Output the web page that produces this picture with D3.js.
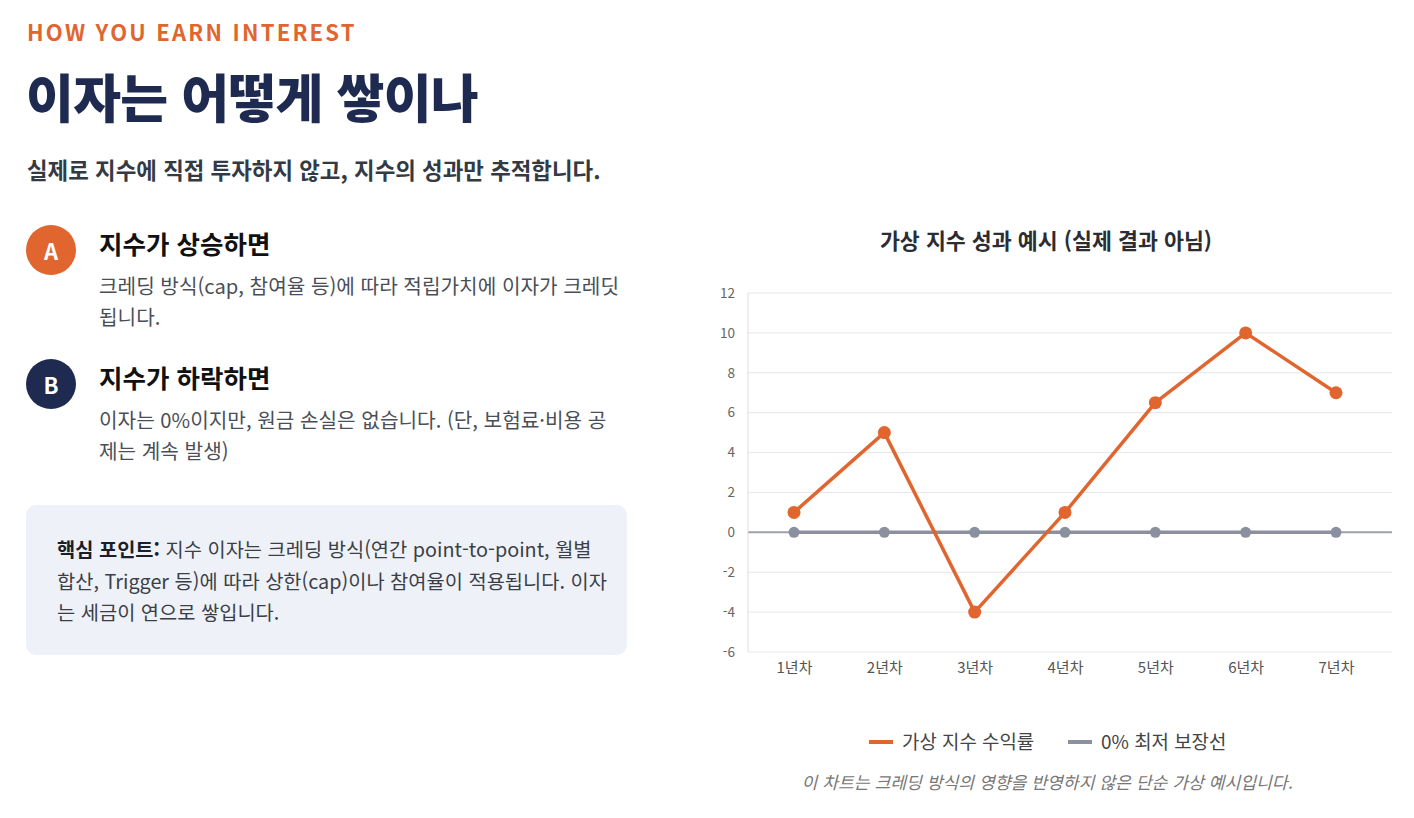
<!DOCTYPE html>
<html lang="ko">
<head>
<meta charset="utf-8">
<script src="https://cdn.jsdelivr.net/npm/d3@7"></script>
<style>
  html, body { margin: 0; padding: 0; background: #fff; }
  body {
    width: 1414px; height: 818px; position: relative; overflow: hidden;
    font-family: "Noto Sans CJK KR", "Noto Sans", sans-serif;
  }
  .abs { position: absolute; white-space: nowrap; }
  .eyebrow { left: 27px; top: 16px; font-size: 22px; font-weight: 700; color: #e0652e; letter-spacing: 2.2px; line-height: 30px; }
  .title { left: 26px; top: 60px; font-size: 52px; font-weight: 800; color: #1e2a50; line-height: 72px; letter-spacing: -0.7px; }
  .sub { left: 27px; top: 154px; font-size: 22.4px; font-weight: 700; color: #333a44; line-height: 30px; }
  .badge { width: 50px; height: 50px; border-radius: 50%; color: #fff; font-weight: 700; font-size: 22px;
           display: flex; align-items: center; justify-content: center; }
  .item-h { font-size: 25.5px; font-weight: 700; color: #111; line-height: 30px; }
  .item-p { font-size: 20.2px; color: #4a4f57; line-height: 31px; }
  .box { left: 26px; top: 505px; width: 601px; height: 150px; background: #eef1f7; border-radius: 10px; }
  .box-p { left: 57px; top: 533px; font-size: 19.8px; color: #3a3f47; line-height: 31.5px; }
  .box-p b { color: #1a1f2a; }
  svg { position: absolute; left: 0; top: 0; }
</style>
</head>
<body>
<div id="left"></div>
<svg id="chart" width="1414" height="818"></svg>
<script>
// ---- data ----
const years = ["1년차", "2년차", "3년차", "4년차", "5년차", "6년차", "7년차"];
const indexReturn = [1, 5, -4, 1, 6.5, 10, 7];
const floorLine = [0, 0, 0, 0, 0, 0, 0];
const yTicks = [-6, -4, -2, 0, 2, 4, 6, 8, 10, 12];
const seriesNames = ["가상 지수 수익률", "0% 최저 보장선"];

const orange = "#e0652e";
const navy = "#1e2a50";
const grey = "#8a909d";
const font = "Noto Sans CJK KR, Noto Sans, sans-serif";

// ---- left column ----
const left = d3.select("#left");
left.append("div").attr("class", "abs eyebrow").text("HOW YOU EARN INTEREST");
left.append("div").attr("class", "abs title").text("이자는 어떻게 쌓이나");
left.append("div").attr("class", "abs sub").text("실제로 지수에 직접 투자하지 않고, 지수의 성과만 추적합니다.");

const items = [
  {letter: "A", color: orange, top: 225, head: "지수가 상승하면",
   lines: ["크레딩 방식(cap, 참여율 등)에 따라 적립가치에 이자가 크레딧", "됩니다."]},
  {letter: "B", color: navy, top: 359, head: "지수가 하락하면",
   lines: ["이자는 0%이지만, 원금 손실은 없습니다. (단, 보험료·비용 공", "제는 계속 발생)"]}
];
items.forEach(it => {
  left.append("div").attr("class", "abs badge")
    .style("left", "26px").style("top", it.top + "px")
    .style("background", it.color).text(it.letter);
  left.append("div").attr("class", "abs item-h")
    .style("left", "99px").style("top", (it.top + 3) + "px").text(it.head);
  left.append("div").attr("class", "abs item-p")
    .style("left", "99px").style("top", (it.top + 45) + "px")
    .html(it.lines.join("<br>"));
});

left.append("div").attr("class", "abs box");
left.append("div").attr("class", "abs box-p")
  .html("<b>핵심 포인트:</b> 지수 이자는 크레딩 방식(연간 point-to-point, 월별<br>합산, Trigger 등)에 따라 상한(cap)이나 참여율이 적용됩니다. 이자<br>는 세금이 연으로 쌓입니다.");

// ---- chart ----
const svg = d3.select("#chart");
const plot = {left: 748, right: 1392, top: 293, bottom: 652};

const x = d3.scalePoint()
  .domain(years)
  .range([plot.left + 46, plot.right - 56]);

const y = d3.scaleLinear()
  .domain([-6, 12])
  .range([plot.bottom, plot.top]);

svg.append("text")
  .attr("x", 1046).attr("y", 249)
  .attr("text-anchor", "middle")
  .attr("font-family", font)
  .attr("font-size", 21.7).attr("font-weight", 700).attr("fill", "#2a2d33")
  .text("가상 지수 성과 예시 (실제 결과 아님)");

// grid
svg.append("g")
  .selectAll("line")
  .data(yTicks)
  .join("line")
    .attr("x1", plot.left).attr("x2", plot.right)
    .attr("y1", d => y(d)).attr("y2", d => y(d))
    .attr("stroke", d => d === 0 ? "#9ba0aa" : "#e6e7ea")
    .attr("stroke-width", d => d === 0 ? 2 : 1);

// left axis line
svg.append("line")
  .attr("x1", plot.left).attr("x2", plot.left)
  .attr("y1", plot.top).attr("y2", plot.bottom)
  .attr("stroke", "#dcdde0");

// y axis (plain hyphen for negatives, like the original)
const yAxis = svg.append("g")
  .attr("transform", `translate(${plot.left},0)`)
  .call(d3.axisLeft(y).tickValues(yTicks).tickFormat(d => String(d)).tickSize(0).tickPadding(13));
yAxis.select(".domain").remove();
yAxis.selectAll("text")
  .attr("font-family", font)
  .attr("font-size", 13.5).attr("fill", "#666");

// x axis
const xAxis = svg.append("g")
  .attr("transform", `translate(0,${plot.bottom})`)
  .call(d3.axisBottom(x).tickSize(0).tickPadding(10));
xAxis.select(".domain").remove();
xAxis.selectAll("text")
  .attr("font-family", font)
  .attr("font-size", 15).attr("fill", "#555");

const line = d3.line()
  .x((d, i) => x(years[i]))
  .y(d => y(d));

const series = [
  {name: seriesNames[1], values: floorLine, color: grey, r: 5.5},
  {name: seriesNames[0], values: indexReturn, color: orange, r: 6.5}
];

series.forEach(s => {
  svg.append("path")
    .datum(s.values)
    .attr("fill", "none")
    .attr("stroke", s.color)
    .attr("stroke-width", 3.5)
    .attr("stroke-linejoin", "round")
    .attr("d", line);
  svg.append("g")
    .selectAll("circle")
    .data(s.values)
    .join("circle")
      .attr("cx", (d, i) => x(years[i]))
      .attr("cy", d => y(d))
      .attr("r", s.r)
      .attr("fill", s.color);
});

// legend
const legendItems = [
  {name: seriesNames[0], color: orange, x: 869},
  {name: seriesNames[1], color: grey, x: 1068}
];
const lg = svg.append("g").attr("transform", "translate(0,742)");
legendItems.forEach(l => {
  lg.append("rect")
    .attr("x", l.x).attr("y", -2).attr("width", 24).attr("height", 4)
    .attr("fill", l.color);
  lg.append("text")
    .attr("x", l.x + 33).attr("y", 0)
    .attr("dy", "0.35em")
    .attr("font-family", font)
    .attr("font-size", 18.9).attr("fill", "#444")
    .text(l.name);
});

svg.append("text")
  .attr("x", 1047).attr("y", 789)
  .attr("text-anchor", "middle")
  .attr("font-family", font)
  .attr("font-size", 17.2).attr("font-style", "italic").attr("fill", "#777")
  .text("이 차트는 크레딩 방식의 영향을 반영하지 않은 단순 가상 예시입니다.");
</script>
</body>
</html>
